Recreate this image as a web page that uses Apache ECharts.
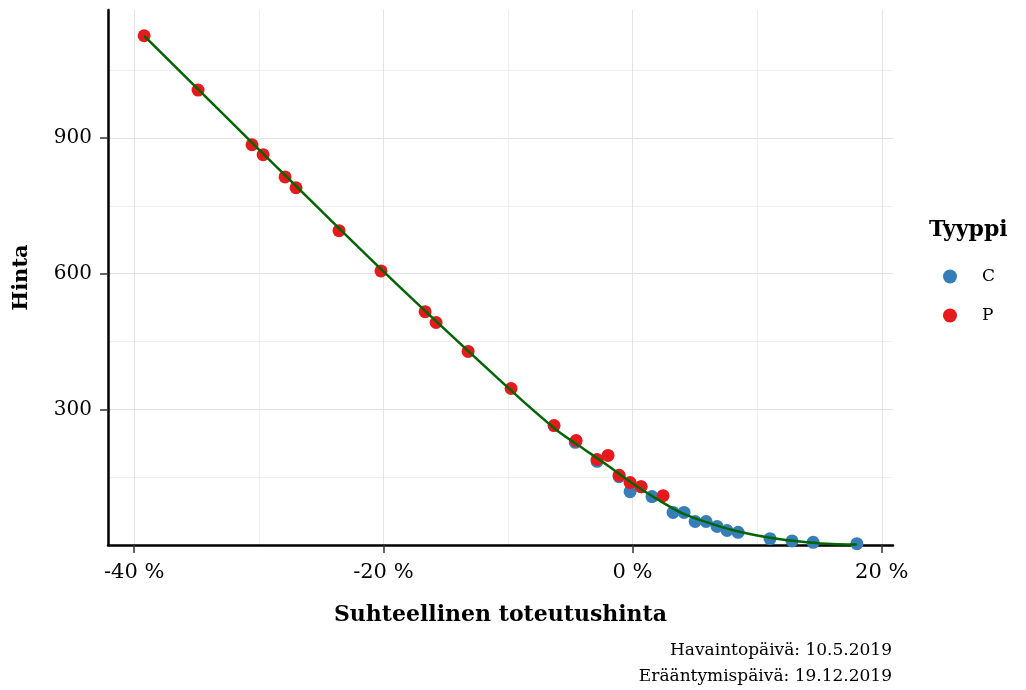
<!DOCTYPE html>
<html>
<head>
<meta charset="utf-8">
<script src="https://cdn.jsdelivr.net/npm/echarts@6/dist/echarts.min.js"></script>
<style>
  html, body { margin: 0; padding: 0; background: #fff; }
  #chart { width: 1026px; height: 690px; }
</style>
</head>
<body>
<div id="chart"></div>
<script>
// relative strike (%) and price
const callX = [-4.6, -2.85, -1.08, -0.2, 0.68, 1.56, 3.25, 4.13, 5.02, 5.9, 6.78, 7.58, 8.47, 11.03, 12.8, 14.49, 18.0];
const callY = [227, 185, 151, 118, 129, 107, 72, 72, 52, 52, 41, 32, 28, 14, 9, 6, 3];
const putX = [-39.2, -34.87, -30.54, -29.65, -27.89, -27.01, -23.56, -20.19, -16.65, -15.77, -13.2, -9.75, -6.3, -4.53, -2.85, -1.97, -1.08, -0.2, 0.68, 2.45];
const putY = [1126, 1006, 885, 863, 814, 790, 695, 606, 516, 492, 428, 346, 264, 231, 189, 198, 154, 138, 129, 109];
const fitX = [-39.2, -30, -20, -10, -6, -4, -2, 0, 2, 4, 6, 8, 10, 12, 14, 16, 18];
const fitY = [1126, 875, 605, 348, 252, 214, 176, 136, 101, 70, 50, 33, 21, 12, 6, 2, 1];

const xMajor = [-40, -20, 0, 20];
const xMinor = [-30, -10, 10];
const yMajor = [300, 600, 900];
const yMinor = [150, 450, 750, 1050];

const FONT = "DejaVu Serif";
const pairs = (xs, ys) => xs.map((x, i) => [x, ys[i]]);

const chart = echarts.init(document.getElementById("chart"), null, { renderer: "canvas" });

const xRange = { min: -42.1, max: 20.9 };
const yRange = { min: 0, max: 1183 };

chart.setOption({
  animation: false,
  textStyle: { fontFamily: FONT, color: "#000" },
  title: [
    { text: "Tyyppi", left: 929, top: 219, padding: 0, textStyle: { fontFamily: FONT, fontSize: 22, fontWeight: "bold", color: "#000" } },
    { text: "Havaintopäivä: 10.5.2019", right: 134, top: 642, padding: 0, textStyle: { fontFamily: FONT, fontSize: 17, fontWeight: "normal", color: "#000" } },
    { text: "Erääntymispäivä: 19.12.2019", right: 134, top: 668, padding: 0, textStyle: { fontFamily: FONT, fontSize: 17, fontWeight: "normal", color: "#000" } },
  ],
  legend: {
    orient: "vertical",
    left: 938,
    top: 263,
    itemGap: 22,
    itemWidth: 14,
    itemHeight: 14,
    icon: "circle",
    data: ["C", "P"],
    textStyle: { fontFamily: FONT, fontSize: 17, color: "#000", padding: [0, 0, 0, 20] },
  },
  grid: { left: 108, right: 133, top: 10, bottom: 145, containLabel: false },
  xAxis: [
    {
      type: "value", ...xRange,
      name: "Suhteellinen toteutushinta",
      nameLocation: "middle", nameGap: 59,
      nameTextStyle: { fontFamily: FONT, fontSize: 22, fontWeight: "bold", color: "#000" },
      axisLine: { show: true, onZero: false, lineStyle: { color: "#000", width: 2.5 } },
      axisTick: { show: true, length: 8, customValues: xMajor, lineStyle: { color: "#333", width: 1.5 } },
      axisLabel: { customValues: xMajor, margin: 17, fontFamily: FONT, fontSize: 21, color: "#000", formatter: v => v + " %" },
      splitLine: { show: true, lineStyle: { color: "#e3e3e3", width: 1 } },
    },
    {
      type: "value", ...xRange,
      axisLine: { show: false },
      axisTick: { show: false, customValues: xMinor },
      axisLabel: { show: false, customValues: xMinor },
      splitLine: { show: true, lineStyle: { color: "#efefef", width: 1 } },
    },
  ],
  yAxis: [
    {
      type: "value", ...yRange,
      name: "Hinta",
      nameLocation: "middle", nameGap: 76, nameRotate: 90,
      nameTextStyle: { fontFamily: FONT, fontSize: 21, fontWeight: "bold", color: "#000" },
      axisLine: { show: true, onZero: false, lineStyle: { color: "#000", width: 2.5 } },
      axisTick: { show: true, length: 8, customValues: yMajor, lineStyle: { color: "#333", width: 1.5 } },
      axisLabel: { customValues: yMajor, margin: 16, fontFamily: FONT, fontSize: 20, color: "#000" },
      splitLine: { show: true, lineStyle: { color: "#e3e3e3", width: 1 } },
    },
    {
      type: "value", ...yRange,
      axisLine: { show: false },
      axisTick: { show: false, customValues: yMinor },
      axisLabel: { show: false, customValues: yMinor },
      splitLine: { show: true, lineStyle: { color: "#efefef", width: 1 } },
    },
  ],
  series: [
    {
      name: "C", type: "scatter", data: pairs(callX, callY),
      symbolSize: 13, itemStyle: { color: "#377EB8", opacity: 1 }, z: 3,
    },
    {
      name: "P", type: "scatter", data: pairs(putX, putY),
      symbolSize: 13, itemStyle: { color: "#E41A1C", opacity: 1 }, z: 4,
    },
    {
      name: "fit", type: "line", data: pairs(fitX, fitY),
      smooth: 0.3, showSymbol: false, symbol: "none",
      lineStyle: { color: "#006400", width: 2.5 }, z: 5,
    },
  ],
});
</script>
</body>
</html>
